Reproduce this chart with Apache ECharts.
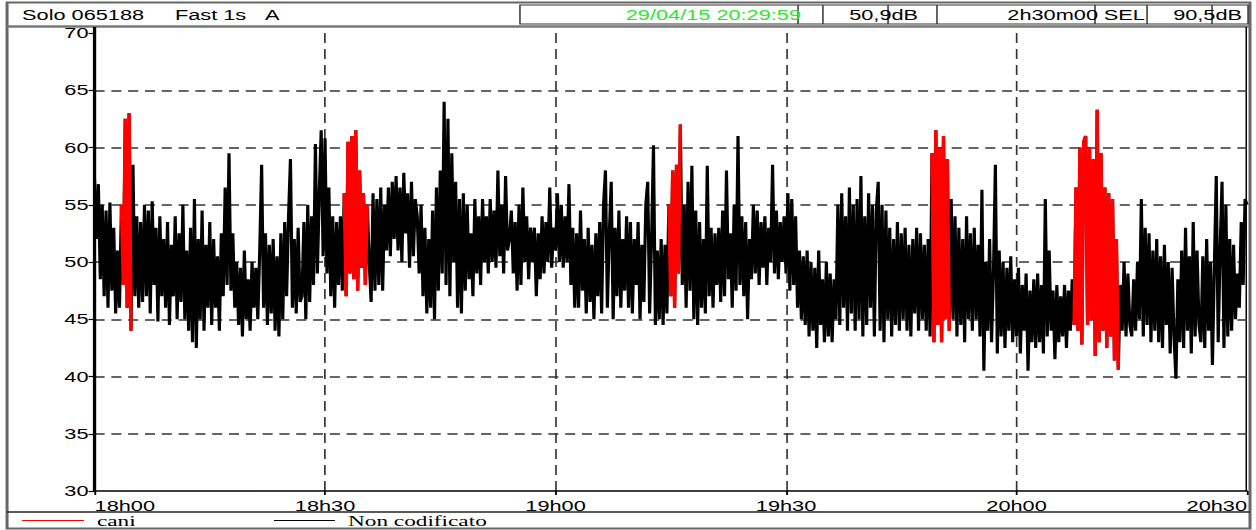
<!DOCTYPE html>
<html>
<head>
<meta charset="utf-8">
<script src="https://cdn.jsdelivr.net/npm/echarts@6/dist/echarts.min.js"></script>
<style>
  html, body { margin: 0; padding: 0; background: #fff; overflow: hidden; }
  /* the chart is laid out on a narrow canvas and stretched horizontally, like the sound-level meter printout */
  #chart { width: 837px; height: 530px; transform: scaleX(1.5006); transform-origin: 0 0; }
</style>
</head>
<body>
<div id="chart"></div>
<script>
// LAeq Fast 1s, one value every 15 s from 18h00 to 20h30
const sampleStep = 15;
const tickLabels = ['18h00', '18h30', '19h00', '19h30', '20h00', '20h30'];
const seriesNames = ['cani', 'Non codificato'];

const level = [
  57.2, 52, 56.8, 48.5, 55, 47, 54.5, 46, 55.2, 47.5, 53, 45.5,        // 18h00
  51, 46, 55, 48, 62.5, 46, 63, 44, 58.5, 47, 54, 46,                  // 18h03
  53.5, 46.5, 55, 47, 54.5, 45.5, 55.3, 48, 53, 44.8, 54, 47,          // 18h06
  52, 46, 53.5, 44.5, 51.5, 47, 54, 45, 52.5, 46.5, 55, 45,            // 18h09
  51, 44, 53, 43, 55.5, 42.5, 52, 45, 54.5, 44, 51.5, 46,              // 18h12
  53.5, 44.5, 52, 46, 50.5, 44, 52.5, 47, 56.5, 48, 59.5, 47.5,        // 18h15
  52.5, 46, 50, 44.5, 49.5, 43.5, 51, 45, 48.5, 44, 50, 46,            // 18h18
  49.5, 45, 51, 58.5, 46, 52.5, 44.5, 51.5, 45.5, 52, 44, 50.5,        // 18h21
  43.5, 52.5, 45, 53.5, 47, 54, 59, 46, 52, 45.5, 53, 46.5,            // 18h24
  47, 53.5, 45, 55, 46.5, 54, 48, 60.3, 49, 56, 61.5, 50.5,            // 18h27
  60.8, 49, 56.5, 47, 54, 46, 53.5, 48, 54, 47.5, 56, 47,              // 18h30
  60.5, 49, 61, 48.5, 61.5, 47.5, 58, 49.5, 56, 48, 55, 50,            // 18h33
  46.5, 56, 47.5, 55.5, 48, 56.5, 47.5, 55, 51, 56.5, 50.5, 57,        // 18h36
  52, 57.5, 51, 56.5, 50, 57.8, 52.5, 56, 49.5, 57, 50.5, 55.5,        // 18h39
  54, 49, 55, 47, 53, 45.5, 52, 46, 54.5, 45, 56.5, 47.5,              // 18h42
  58, 49, 64, 48, 62.5, 47, 59.5, 50, 57, 46, 55.5, 45.5,              // 18h45
  56, 47.5, 55, 48.5, 52.5, 47, 55.5, 49, 54, 48, 55.5, 50,            // 18h48
  54, 49, 55.5, 50, 54.5, 49.5, 58, 50.5, 55, 49, 57.5, 51,            // 18h51
  52, 54.5, 49, 53.5, 47.5, 55, 48, 56.5, 50, 54, 48.5, 53,            // 18h54
  50, 53, 47, 52.5, 48.5, 54, 49, 53.5, 50, 56.5, 49.5, 53,            // 18h57
  51, 56, 50, 55, 49.5, 54, 50, 56.8, 48, 53, 46, 52.5,                // 19h00
  46, 54.5, 47.5, 52, 45.5, 53, 46.5, 51.5, 45, 52.5, 47, 53.5,        // 19h03
  45.5, 55, 58, 46, 52.5, 57, 45, 53, 47, 54.5, 46, 52,                // 19h06
  47.5, 54, 46, 53.5, 45.5, 52, 48, 53.5, 45, 51.5, 46.5, 55,          // 19h09
  57, 45.5, 52, 60.2, 44.5, 51, 45, 52, 44.5, 51.5, 45.5, 55,          // 19h12
  47, 58, 46, 58.5, 49, 62, 48, 55, 46, 57, 47.5, 58.4,                // 19h15
  45, 54.5, 44.5, 53.5, 46, 52, 45.5, 58.4, 47, 53, 46, 52.5,          // 19h18
  48, 53, 46.5, 54.5, 47, 58, 48.5, 52.5, 46, 55, 47.5, 61,            // 19h21
  48, 54, 47, 53.5, 45, 52, 48.5, 55, 49, 54.5, 48, 53.5,              // 19h24
  49.5, 54, 48, 53, 50, 58.5, 49, 54.5, 48.5, 53.5, 50, 54,            // 19h27
  49, 56, 47.5, 55.5, 48, 54, 46, 51, 45, 50.5, 44.5, 51,              // 19h30
  43.5, 50, 44, 49.5, 42.5, 51, 44.5, 48.5, 43, 50, 43.5, 49,          // 19h33
  43, 48.5, 45, 55, 44.5, 56, 46, 54, 44, 56.5, 45.5, 55,              // 19h36
  44, 55.5, 45, 57.5, 43.5, 54, 44.5, 56, 46, 55, 43.5, 54.5,          // 19h39
  57, 44, 55, 43, 54.5, 45, 53, 43.5, 52, 44.5, 53.5, 44,              // 19h42
  52.5, 45, 53, 44, 51.5, 43.5, 52, 45.5, 53, 44, 52.5, 45,            // 19h45
  51.5, 44, 52, 43.5, 59.5, 43, 61.5, 44.5, 60, 43, 61, 45,            // 19h48
  59, 44, 55.5, 45, 54, 43.5, 53, 44.5, 52, 43, 54, 45,                // 19h51
  52.5, 44, 53, 45, 51.5, 43.5, 56.3, 40.5, 50, 44, 52, 43,            // 19h54
  49, 58.5, 42, 51, 43.5, 50, 42.5, 49.5, 44, 50.5, 43, 48.5,          // 19h57
  43.5, 49.5, 42, 48, 44, 49, 40.5, 47.5, 43, 48.5, 42.5, 49,          // 20h00
  43, 48, 42, 55.5, 43.5, 51, 44, 47.5, 41.5, 48, 43, 47,              // 20h03
  43.5, 48, 42.5, 47.5, 44, 48.5, 44.5, 56.5, 44, 60, 42.8, 60.5,      // 20h06
  61, 44.5, 60, 45, 59, 41.8, 63.3, 43, 59.5, 44, 56.5, 42.5,          // 20h09
  56, 43.5, 55.5, 41.4, 52, 40.6, 48, 44, 50, 43.5, 49, 44.5,          // 20h12
  43.5, 48.5, 44, 50, 45, 55.5, 43.5, 53, 44.5, 52.5, 43, 51,          // 20h15
  44, 52, 43, 50.5, 42.5, 51.5, 44.5, 50, 42, 49.5, 43.5, 39.8,        // 20h18
  48.5, 43, 51, 42.5, 53, 44, 50.5, 42, 53.5, 43.5, 51, 44.5,          // 20h21
  43, 50.5, 42.5, 52, 44, 50, 41, 49.5, 57.5, 43, 51, 57,              // 20h24
  42.5, 55, 43.5, 52, 44, 51.5, 45, 49, 46, 53.5, 48, 55.5,            // 20h27
  55                                                                   // 20h30
];

// periods coded as "cani" (seconds from 18h00)
const caniStart = [210, 1950, 4485, 6540, 7650];
const caniEnd   = [285, 2130, 4575, 6675, 7995];

const otherData = level.map((v, i) => [i * sampleStep, v]);
const caniData = [];
caniStart.forEach((s, k) => {
  for (let t = s; t <= caniEnd[k]; t += sampleStep) caniData.push([t, level[t / sampleStep]]);
  caniData.push([caniEnd[k] + 1, '-']);
});

const FONT = '"Liberation Sans", Arial, sans-serif';
const SERIF = '"Liberation Serif", "Times New Roman", serif';

function hline(x1, x2, y, color, w) {
  return { type: 'line', silent: true, shape: { x1: x1, y1: y, x2: x2, y2: y }, style: { stroke: color, lineWidth: w } };
}
function vline(x, y1, y2, color, w) {
  return { type: 'line', silent: true, shape: { x1: x, y1: y1, x2: x, y2: y2 }, style: { stroke: color, lineWidth: w } };
}
function label(text, x, y, align, color) {
  return {
    type: 'text', silent: true, x: x, y: y,
    style: { text: text, fill: color || '#000', font: '14.5px ' + FONT,
             textAlign: align, textVerticalAlign: 'middle', align: align, verticalAlign: 'middle' }
  };
}

const legendBase = {
  top: 512.5, padding: 0, icon: 'rect', itemHeight: 1.2,
  itemStyle: { borderWidth: 0 }, lineStyle: { width: 0 }
};

const chart = echarts.init(document.getElementById('chart'), null, { renderer: 'svg' });

chart.setOption({
  animation: false,
  backgroundColor: '#fff',
  grid: { left: 63, right: 6, top: 33, bottom: 39, containLabel: false },
  legend: [
    Object.assign({}, legendBase, {
      data: [seriesNames[0]], left: 14.7, itemWidth: 41.3,
      textStyle: { fontFamily: SERIF, fontSize: 15.5, color: '#000', padding: [0, 0, 0, 3.6] }
    }),
    Object.assign({}, legendBase, {
      data: [seriesNames[1]], left: 182.6, itemWidth: 40.6,
      textStyle: { fontFamily: SERIF, fontSize: 15.5, color: '#000', padding: [0, 0, 0, 3.7] }
    })
  ],
  xAxis: {
    type: 'value', min: 0, max: 9000, interval: 1800,
    axisLine: { show: true, onZero: false, lineStyle: { color: '#000', width: 1.5 } },
    axisTick: { show: true, length: 4, lineStyle: { color: '#000', width: 1.2 } },
    axisLabel: {
      color: '#000', fontFamily: FONT, fontSize: 14.5, margin: 7,
      alignMinLabel: 'left', alignMaxLabel: 'right',
      formatter: v => tickLabels[Math.round(v / 1800)]
    },
    splitLine: { show: true, showMinLine: false, showMaxLine: false,
                 lineStyle: { color: '#333', width: 1.1, type: [10, 6] } }
  },
  yAxis: {
    type: 'value', min: 30, max: 70, interval: 5,
    axisLine: { show: true, lineStyle: { color: '#000', width: 2.2 } },
    axisTick: { show: true, length: 4, lineStyle: { color: '#000', width: 1.2 } },
    axisLabel: { color: '#000', fontFamily: FONT, fontSize: 14.5, margin: 4 },
    splitLine: { show: true, showMinLine: false, showMaxLine: false,
                 lineStyle: { color: '#333', width: 1.5, type: [6.7, 4.5] } }
  },
  series: [
    {
      name: seriesNames[1], type: 'line', data: otherData, color: '#000',
      showSymbol: false, symbol: 'none', sampling: null, z: 2,
      lineStyle: { color: '#000', width: 2.1, join: 'bevel' }
    },
    {
      name: seriesNames[0], type: 'line', data: caniData, color: '#ff0000',
      showSymbol: false, symbol: 'none', connectNulls: false, z: 3,
      lineStyle: { color: '#ff0000', width: 2.3, join: 'bevel' }
    }
  ],
  graphic: [
    // outer frame, header band and legend band
    { type: 'rect', silent: true, shape: { x: 4.7, y: 2.5, width: 828.3, height: 526 },
      style: { fill: 'none', stroke: '#666', lineWidth: 2 } },
    hline(4.7, 833, 26.5, '#777', 2.5),
    hline(4.7, 833, 512, '#222', 1.5),
    vline(63, 27, 33, '#000', 2.2),
    vline(830.5, 27, 491, '#000', 1),
    // header fields
    { type: 'rect', silent: true, shape: { x: 346.5, y: 5, width: 485.2, height: 19 },
      style: { fill: 'none', stroke: '#333', lineWidth: 1 } },
    vline(531.8, 5, 24, '#333', 1),
    vline(548.4, 5, 24, '#333', 1),
    vline(591.8, 5, 24, '#333', 1),
    vline(624.4, 5, 24, '#333', 1),
    vline(729.7, 5, 24, '#333', 1),
    vline(764.4, 5, 24, '#333', 1),
    vline(807.7, 5, 24, '#333', 1),
    label('Solo 065188', 14.7, 15, 'left'),
    label('Fast 1s', 116.6, 15, 'left'),
    label('A', 176.6, 15, 'left'),
    label('29/04/15 20:29:59', 533.8, 14.5, 'right', '#2ee62e'),
    label('50,9dB', 611.8, 14.5, 'right'),
    label('2h30m00', 731.7, 14.5, 'right'),
    label('SEL', 763, 14.5, 'right'),
    label('90,5dB', 827.7, 14.5, 'right')
  ]
});
</script>
</body>
</html>
